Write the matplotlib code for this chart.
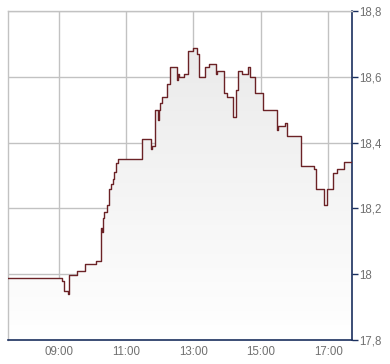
import numpy as np
import matplotlib
matplotlib.use('Agg')
import matplotlib.pyplot as plt

# --- data (step changes, price holds until next time) ---
times = ['07:30', '09:06', '09:09', '09:16', '09:18', '09:33', '09:47', '10:06',
         '10:16', '10:18', '10:19', '10:21', '10:27', '10:30', '10:33', '10:37',
         '10:39', '10:43', '10:46', '11:28', '11:44', '11:47', '11:51', '11:52',
         '11:57', '11:58', '12:00', '12:04', '12:12', '12:19', '12:30', '12:33',
         '12:35', '12:44', '12:51', '12:59', '13:06', '13:09', '13:20', '13:28',
         '13:40', '13:41', '13:55', '13:59', '14:11', '14:16', '14:19', '14:27',
         '14:37', '14:40', '14:50', '15:04', '15:29', '15:31', '15:42', '15:46',
         '16:12', '16:34', '16:38', '16:53', '16:58', '17:09', '17:16', '17:28',
         '17:42']
prices = [17.988, 17.979, 17.949, 17.940, 17.999, 18.009, 18.030, 18.040,
          18.140, 18.129, 18.170, 18.190, 18.210, 18.258, 18.273, 18.289,
          18.310, 18.339, 18.349, 18.410, 18.380, 18.390, 18.450, 18.499,
          18.469, 18.499, 18.520, 18.538, 18.579, 18.629, 18.589, 18.609,
          18.598, 18.609, 18.678, 18.688, 18.669, 18.598, 18.629, 18.639,
          18.609, 18.619, 18.550, 18.538, 18.479, 18.560, 18.619, 18.609,
          18.629, 18.598, 18.550, 18.499, 18.438, 18.450, 18.459, 18.419,
          18.329, 18.319, 18.258, 18.210, 18.258, 18.309, 18.319, 18.340,
          18.340]

xtick_labels = ['09:00', '11:00', '13:00', '15:00', '17:00']
ytick_vals = [17.8, 18.0, 18.2, 18.4, 18.6, 18.8]
ytick_labels = ['17,8', '18', '18,2', '18,4', '18,6', '18,8']


def to_hours(s):
    h, m = s.split(':')
    return int(h) + int(m) / 60.0


x = np.array([to_hours(t) for t in times])
y = np.array(prices)
xticks = [to_hours(t) for t in xtick_labels]

plt.rcParams['font.family'] = ['Liberation Sans', 'DejaVu Sans']

fig = plt.figure(figsize=(3.9, 3.64), dpi=100)
fig.patch.set_facecolor('white')
ax = fig.add_axes([8 / 390, 24 / 364, 344 / 390, 329 / 364])

x0, x1 = 7.5, x[-1]
y0, y1 = 17.8, 18.8
ax.set_xlim(x0, x1)
ax.set_ylim(y0, y1)

# step polygon for the gradient fill
sx = np.repeat(x, 2)[1:]
sy = np.repeat(y, 2)[:-1]
poly_x = np.concatenate([[x0], sx, [x1, x1, x0]])
poly_y = np.concatenate([[y[0]], sy, [y[-1], y0, y0]])
patch = plt.Polygon(np.column_stack([poly_x, poly_y]), closed=True,
                    facecolor='none', edgecolor='none')
ax.add_patch(patch)

grad = np.linspace(1, 0, 256).reshape(-1, 1)
cmap = matplotlib.colors.LinearSegmentedColormap.from_list('g', ['#ffffff', '#e8e8e8'])
im = ax.imshow(grad, extent=[x0, x1, y0, y1], aspect='auto', cmap=cmap,
               origin='upper', zorder=1, vmin=0, vmax=1)
im.set_clip_path(patch)

ax.step(x, y, where='post', color='#6b2226', linewidth=1.0, zorder=3)

ax.set_xticks(xticks)
ax.set_xticklabels(xtick_labels)
ax.set_yticks(ytick_vals)
ax.set_yticklabels(ytick_labels)
ax.grid(True, color='#c2c2c2', linewidth=1, zorder=0)
ax.set_axisbelow(True)

ax.yaxis.tick_right()
ax.tick_params(axis='y', direction='out', length=4, width=1, color='#1a2f5e',
               labelcolor='#707070', labelsize=8.3, pad=1)
ax.tick_params(axis='x', length=0, labelcolor='#707070', labelsize=8.3, pad=4)

for side in ['left', 'top']:
    ax.spines[side].set_color('#c2c2c2')
    ax.spines[side].set_linewidth(1)
for side in ['right', 'bottom']:
    ax.spines[side].set_color('#1a2f5e')
    ax.spines[side].set_linewidth(1.2)

fig.savefig('out.png', dpi=100, facecolor='white')
